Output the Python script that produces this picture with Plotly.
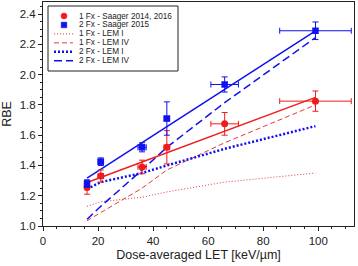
import plotly.graph_objects as go

# ---- data ----
let_x = [16, 21, 36, 45, 66, 99]
let_err = [0.5, 1, 1.5, 1, 5, 13]

rbe_1fx = [1.255, 1.33, 1.39, 1.52, 1.675, 1.825]
rbe_1fx_err = [0.045, 0.04, 0.045, 0.11, 0.075, 0.067]
rbe_2fx = [1.28, 1.425, 1.52, 1.71, 1.935, 2.29]
rbe_2fx_err = [0.025, 0.025, 0.03, 0.11, 0.05, 0.058]

fit_x = [16, 99]
fit_1fx = [1.287, 1.85]
fit_2fx = [1.316, 2.29]

lem1_1fx = [1.13, 1.16, 1.19, 1.225, 1.29, 1.35]
lem4_1fx = [1.035, 1.09, 1.25, 1.37, 1.55, 1.80]
lem1_2fx = [1.245, 1.29, 1.35, 1.40, 1.51, 1.66]
lem4_2fx = [1.045, 1.13, 1.37, 1.52, 1.815, 2.245]

legend_labels = ["1 Fx - Saager 2014, 2016", "2 Fx - Saager 2015",
                 "1 Fx - LEM I", "1 Fx - LEM IV", "2 Fx - LEM I", "2 Fx - LEM IV"]

RED = "#f01c1c"
RED_L = "#e23a3a"
BLUE = "#1010f0"
FONT = "Liberation Sans, Arial, sans-serif"

fig = go.Figure()

# model curves
fig.add_trace(go.Scatter(x=let_x, y=lem1_1fx, mode="lines",
                         line=dict(color=RED_L, width=1, dash="1px,2px")))
fig.add_trace(go.Scatter(x=let_x, y=lem4_1fx, mode="lines",
                         line=dict(color=RED_L, width=1, dash="5px,3px")))
fig.add_trace(go.Scatter(x=let_x, y=lem1_2fx, mode="lines",
                         line=dict(color=BLUE, width=2.5, dash="2px,2px")))
fig.add_trace(go.Scatter(x=let_x, y=lem4_2fx, mode="lines",
                         line=dict(color=BLUE, width=1.5, dash="8px,4px")))
# fits
fig.add_trace(go.Scatter(x=fit_x, y=fit_1fx, mode="lines", line=dict(color=RED, width=1.5)))
fig.add_trace(go.Scatter(x=fit_x, y=fit_2fx, mode="lines", line=dict(color=BLUE, width=1.5)))
# measurements
fig.add_trace(go.Scatter(x=let_x, y=rbe_1fx, mode="markers",
                         marker=dict(symbol="circle", size=7, color=RED),
                         error_y=dict(type="data", array=rbe_1fx_err, color=RED, thickness=1, width=3),
                         error_x=dict(type="data", array=let_err, color=RED, thickness=1, width=3)))
fig.add_trace(go.Scatter(x=let_x, y=rbe_2fx, mode="markers",
                         marker=dict(symbol="square", size=6.5, color=BLUE),
                         error_y=dict(type="data", array=rbe_2fx_err, color=BLUE, thickness=1, width=3),
                         error_x=dict(type="data", array=let_err, color=BLUE, thickness=1, width=3)))

# ---- manual legend (layout geometry in pixels -> paper) ----
L, R, T, B = 43, 4, 2, 40
W, H = 358, 266
pw, ph = W - L - R, H - T - B


def px(xp):
    return (xp - L) / pw


def py(yp):
    return (H - B - yp) / ph


shapes = [dict(type="rect", xref="paper", yref="paper",
               x0=px(48), x1=px(178), y0=py(71), y1=py(6),
               line=dict(color="#222", width=1), fillcolor="white", layer="above")]
annotations = []
styles = [("marker_c", RED), ("marker_s", BLUE),
          ("1px,2px", RED_L, 1), ("5px,3px", RED_L, 1),
          ("2px,2px", BLUE, 2.5), ("8px,4px", BLUE, 1.5)]
for i, (lab, st) in enumerate(zip(legend_labels, styles)):
    yc = 16 + 8.95 * i
    if st[0] == "marker_c":
        shapes.append(dict(type="circle", xref="paper", yref="paper",
                           x0=px(61), x1=px(67), y0=py(yc + 3), y1=py(yc - 3),
                           fillcolor=st[1], line=dict(color=st[1], width=0.5), layer="above"))
    elif st[0] == "marker_s":
        shapes.append(dict(type="rect", xref="paper", yref="paper",
                           x0=px(61.2), x1=px(66.8), y0=py(yc + 2.8), y1=py(yc - 2.8),
                           fillcolor=st[1], line=dict(color=st[1], width=0.5), layer="above"))
    else:
        shapes.append(dict(type="line", xref="paper", yref="paper",
                           x0=px(54), x1=px(73), y0=py(yc), y1=py(yc),
                           line=dict(color=st[1], width=st[2], dash=st[0]), layer="above"))
    annotations.append(dict(xref="paper", yref="paper", x=px(76.5), y=py(yc),
                            text=lab, showarrow=False, xanchor="left", yanchor="middle",
                            font=dict(family=FONT, size=8.2, color="#222")))

axis_common = dict(showline=True, linecolor="#222", linewidth=1, mirror=True,
                   ticks="outside", ticklen=4, tickcolor="#222", showgrid=False,
                   zeroline=False, tickfont=dict(family=FONT, size=11.5, color="#222"))

fig.update_layout(
    width=W, height=H,
    margin=dict(l=L, r=R, t=T, b=B),
    paper_bgcolor="white", plot_bgcolor="white",
    showlegend=False, hovermode=False,
    shapes=shapes, annotations=annotations,
    xaxis=dict(range=[0, 113], dtick=20, tick0=0,
               minor=dict(dtick=5, ticks="outside", ticklen=2, tickcolor="#222"),
               title=dict(text="Dose-averaged LET [keV/µm]", standoff=4,
                          font=dict(family=FONT, size=12.5, color="#222")),
               **axis_common),
    yaxis=dict(range=[1.0, 2.48], dtick=0.2, tick0=1.0, tickformat=".1f",
               minor=dict(dtick=0.05, ticks="outside", ticklen=2, tickcolor="#222"),
               title=dict(text="RBE", standoff=6,
                          font=dict(family=FONT, size=12.5, color="#222")),
               **axis_common),
)

fig.write_html("out.html",
               config={"displayModeBar": False, "staticPlot": True},
               post_script="document.body.style.margin='0';document.body.style.padding='0';")
